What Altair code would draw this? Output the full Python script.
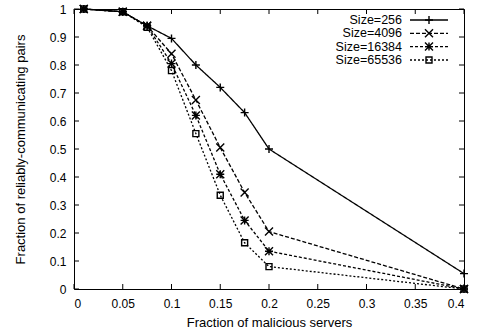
import altair as alt
import pandas as pd

# ---- data ----
x_vals = [0.01, 0.05, 0.075, 0.1, 0.125, 0.15, 0.175, 0.2, 0.4]
series_names = ["Size=256", "Size=4096", "Size=16384", "Size=65536"]
size_256 = [1.0, 0.99, 0.94, 0.895, 0.80, 0.72, 0.63, 0.50, 0.055]
size_4096 = [1.0, 0.99, 0.94, 0.84, 0.675, 0.505, 0.345, 0.205, 0.0]
size_16384 = [1.0, 0.99, 0.94, 0.805, 0.62, 0.41, 0.245, 0.135, 0.0]
size_65536 = [1.0, 0.99, 0.935, 0.78, 0.555, 0.335, 0.165, 0.08, 0.0]
x_ticks = [0, 0.05, 0.1, 0.15, 0.2, 0.25, 0.3, 0.35, 0.4]
y_ticks = [0, 0.1, 0.2, 0.3, 0.4, 0.5, 0.6, 0.7, 0.8, 0.9, 1.0]

series_values = [size_256, size_4096, size_16384, size_65536]

# ---- styles ----
FONT = "Liberation Sans"
W, H = 390, 280
plus = "M-1,0L1,0M0,-1L0,1"
cross = "M-1,-1L1,1M-1,1L1,-1"
star = plus + cross
square = "M-1,-1L1,-1L1,1L-1,1Z"
shapes = [plus, cross, star, square]
sizes = [64, 64, 64, 36]
dashes = [[1, 0], [4, 2], [3, 2], [2, 2]]

xscale = alt.Scale(domain=[0, 0.4], nice=False, zero=False)
yscale = alt.Scale(domain=[0, 1], nice=False)
xaxis = alt.Axis(values=x_ticks, format="~g", title="Fraction of malicious servers",
                 grid=False, ticks=False, tickSize=0, domain=False,
                 labelPadding=9, labelFont=FONT, labelFontSize=12, labelColor="black",
                 titleFont=FONT, titleFontSize=13, titleFontWeight="normal", titleColor="black",
                 titleY=33, titleBaseline="middle")
yaxis = alt.Axis(values=y_ticks, format="~g", title="Fraction of reliably-communicating pairs",
                 grid=False, ticks=False, tickSize=0, domain=False,
                 labelPadding=8, labelFont=FONT, labelFontSize=12, labelColor="black",
                 titleFont=FONT, titleFontSize=13, titleFontWeight="normal", titleColor="black",
                 titleX=-54, titleY=H / 2, titleAngle=-90, titleBaseline="middle", titleAlign="center")

layers = []

# tick marks (inward, mirrored on all sides)
xt = pd.DataFrame({"t": x_ticks})
yt = pd.DataFrame({"t": y_ticks})
for y0, y1 in [(H, H - 5), (0, 5)]:
    layers.append(alt.Chart(xt).mark_rule(color="black", strokeWidth=1).encode(
        x=alt.X("t:Q", scale=xscale, axis=xaxis), y=alt.value(y0), y2=alt.value(y1)))
for x0, x1 in [(0, 5), (W, W - 5)]:
    layers.append(alt.Chart(yt).mark_rule(color="black", strokeWidth=1).encode(
        y=alt.Y("t:Q", scale=yscale, axis=yaxis), x=alt.value(x0), x2=alt.value(x1)))

# data series
for name, vals, shp, sz, dsh in zip(series_names, series_values, shapes, sizes, dashes):
    df = pd.DataFrame({"x": x_vals, "y": vals, "series": name})
    enc = dict(x=alt.X("x:Q", scale=xscale, axis=xaxis), y=alt.Y("y:Q", scale=yscale, axis=yaxis))
    layers.append(alt.Chart(df).mark_line(color="black", strokeWidth=1.3, strokeDash=dsh).encode(**enc))
    layers.append(alt.Chart(df).mark_point(shape=shp, size=sz, filled=False, color="black",
                                           strokeWidth=1.4, opacity=1).encode(**enc))

# legend (top right, inside the plot)
leg_y = [11, 24.3, 37.6, 51]
for name, ly, shp, sz, dsh in zip(series_names, leg_y, shapes, sizes, dashes):
    d = pd.DataFrame({"name": [name]})
    layers.append(alt.Chart(d).mark_text(align="right", baseline="middle", font=FONT,
                                         fontSize=12.5, color="black").encode(
        text="name:N", x=alt.value(328), y=alt.value(ly)))
    layers.append(alt.Chart(d).mark_rule(color="black", strokeWidth=1.3, strokeDash=dsh).encode(
        x=alt.value(336), x2=alt.value(374), y=alt.value(ly)))
    layers.append(alt.Chart(d).mark_point(shape=shp, size=sz, filled=False, color="black",
                                          strokeWidth=1.4, opacity=1).encode(
        x=alt.value(355), y=alt.value(ly)))

chart = alt.layer(*layers).properties(
    width=W, height=H,
    autosize=alt.AutoSizeParams(type="none"),
    padding={"left": 74, "top": 9, "right": 15, "bottom": 46},
    background="white",
).configure_view(stroke="black", strokeWidth=1)

chart.save("out.html", embed_options={"renderer": "svg", "actions": False})
